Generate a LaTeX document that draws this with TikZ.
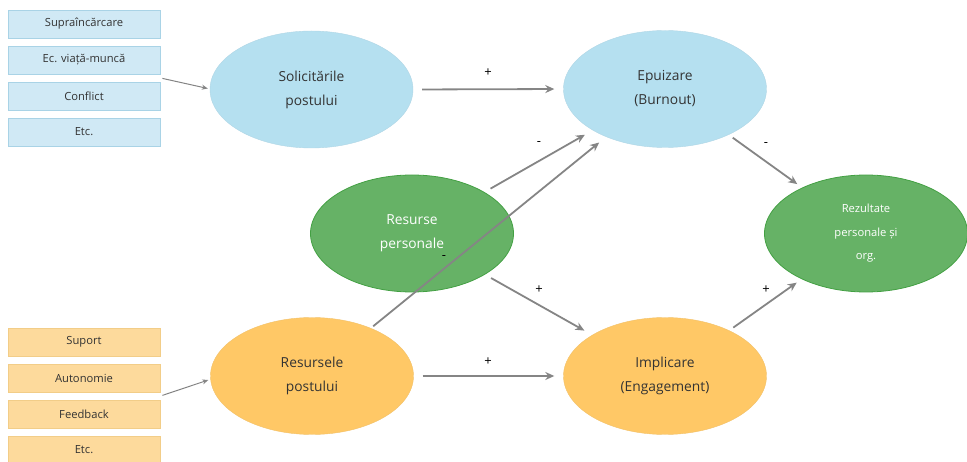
\documentclass[tikz,border=0pt]{standalone}
\usepackage{fontspec}
\setmainfont{Open Sans}
\usetikzlibrary{shapes.geometric,calc,arrows.meta}
\definecolor{bluebox}{HTML}{D0E9F5}
\definecolor{blueboxline}{HTML}{A9D3E6}
\definecolor{blueell}{HTML}{B5E0F0}
\definecolor{orbox}{HTML}{FDDA9C}
\definecolor{orboxline}{HTML}{F2CD88}
\definecolor{orell}{HTML}{FFC866}
\definecolor{greenell}{HTML}{66B266}
\definecolor{greenline}{HTML}{43A043}
\definecolor{arrowgray}{HTML}{858585}
\definecolor{txt}{HTML}{333333}
\tikzset{
  x=1pt, y=-1pt,
  itembox/.style={draw, line width=0.8pt, minimum width=152pt, minimum height=28pt, inner sep=0pt, font=\fontsize{11.2}{13}\selectfont, text=txt},
  bluebx/.style={itembox, fill=bluebox, draw=blueboxline},
  orbx/.style={itembox, fill=orbox, draw=orboxline},
  ell/.style={ellipse, minimum width=203pt, minimum height=117pt, inner sep=0pt, align=center, font=\fontsize{13.8}{24}\selectfont},
  blueel/.style={ell, fill=blueell, draw=blueell!90!gray, text=txt},
  orel/.style={ell, fill=orell, draw=orell!90!gray, text=txt},
  greenel/.style={ell, fill=greenell, draw=greenline, line width=0.8pt, text=white},
  conn/.style={draw=arrowgray, line width=1.8pt, -{Stealth[length=9pt,width=8pt]}},
  thinconn/.style={draw=arrowgray, line width=1pt, -{Stealth[length=6pt,width=5pt]}},
  sign/.style={font=\fontsize{13}{14}\selectfont, text=black, inner sep=0pt}
}
\begin{document}
\begin{tikzpicture}
\useasboundingbox (0,0) rectangle (967,462);
% left boxes
\node[bluebx] (b1) at (84,24) {Supraîncărcare};
\node[bluebx] (b2) at (84,60) {Ec. viață-muncă};
\node[bluebx] (b3) at (84,96) {Conflict};
\node[bluebx] (b4) at (84,132) {Etc.};
\node[orbx] (o1) at (84,342) {Suport};
\node[orbx] (o2) at (84,378) {Autonomie};
\node[orbx] (o3) at (84,414) {Feedback};
\node[orbx] (o4) at (84,450) {Etc.};
% ellipses
\node[blueel] (sol) at (311.5,89.5) {Solicitările\\postului};
\node[blueel] (epu) at (665,89) {Epuizare\\(Burnout)};
\node[greenel] (rp) at (412,233.5) {Resurse\\personale};
\node[greenel, font=\fontsize{11.2}{23.5}\selectfont] (rez) at (866,233.5) {Rezultate\\personale și\\org.};
\node[orel] (rpo) at (312,376) {Resursele\\postului};
\node[orel] (imp) at (665,376) {Implicare\\(Engagement)};
% connectors from boxes
\coordinate (b2out) at ($(b2.south east)+(2,4)$);
\coordinate (o2out) at ($(o2.south east)+(2,3)$);
\draw[thinconn] (b2out) -- ($(sol.west)+(-2,-1)$);
\draw[thinconn] (o2out) -- ($(rpo.west)+(-2,4)$);
% main arrows
\draw[conn, shorten <=9pt, shorten >=9pt] (sol.east) -- (epu.west);
\draw[conn, shorten <=9pt, shorten >=9pt] (rpo.east) -- (imp.west);
\draw[conn, shorten <=7pt, shorten >=9pt] (rp) -- (epu);
\draw[conn, shorten <=7pt, shorten >=9pt] (rp) -- (imp);
\draw[conn, shorten <=3pt, shorten >=9pt] (rpo) -- (epu);
\draw[conn, shorten <=5pt, shorten >=6pt] (epu) -- (rez);
\draw[conn, shorten <=5pt, shorten >=6pt] (imp) -- (rez);
% signs
\node[sign] (s1) at (488,73) {+};
\node[sign] (s2) at (488,362) {+};
\node[sign] (s3) at (539,144) {-};
\node[sign] (s4) at (539,290) {+};
\node[sign] (s5) at (444,258) {-};
\node[sign] (s6) at (766,145) {-};
\node[sign] (s7) at (766,290) {+};
\end{tikzpicture}
\end{document}
